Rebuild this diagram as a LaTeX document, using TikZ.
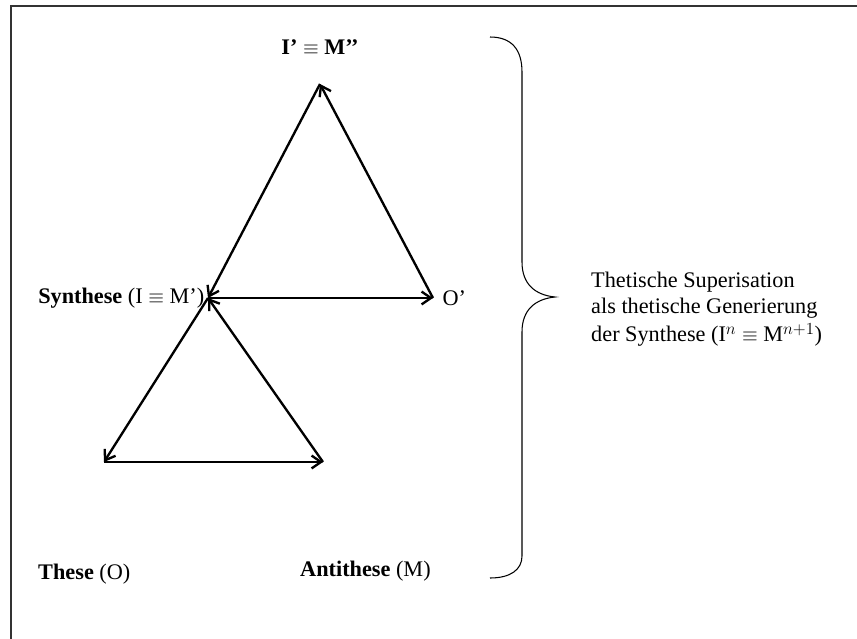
\documentclass[tikz,border=0pt]{standalone}
\usepackage{fontspec}
\setmainfont{Liberation Serif}
\usetikzlibrary{arrows.meta,positioning}

\begin{document}
\begin{tikzpicture}[x=0.03cm,y=-0.03cm,>={Straight Barb[length=8pt,width=11pt]}]
\tikzstyle{edge}=[->,line width=2pt]
\tikzstyle{lbl}=[inner sep=0pt,font=\fontsize{19}{19.6}\selectfont]
\useasboundingbox (0,0) rectangle (857,639);
% frame
\draw[line width=1.4pt,black!80] (11,639) -- (11,6) -- (857,6);
% corners of the two triangles
\coordinate (apex) at (320,84);
\coordinate (syn) at (208,298);
\coordinate (oprime) at (433,298);
\coordinate (these) at (104,462);
\coordinate (anti) at (323,462);
\draw[edge] (syn) -- (oprime);
\draw[edge] (oprime) -- (apex);
\draw[edge] (apex) -- (syn);
\draw[edge] (syn) -- (these);
\draw[edge] (these) -- (anti);
\draw[edge] (anti) -- (syn);
% labels
\node[lbl,above=25pt of apex] (toplbl) {\textbf{I’} $\equiv$ \textbf{M’’}};
\node[lbl,left=3pt of syn] (synlbl) {\textbf{Synthese} (I $\equiv$ M’)};
\node[lbl,right=8pt of oprime] (olbl) {O’};
\node[lbl,anchor=west] (thlbl) at (38,574) {\textbf{These} (O)};
\node[lbl,anchor=west] (antlbl) at (300,571) {\textbf{Antithese} (M)};
% brace
\coordinate (btop) at (490,37);
\coordinate (btip) at (555,297);
\coordinate (bbot) at (490,578);
\draw[line width=0.9pt] (btop) .. controls (512,37) and (522,50) .. (522,72) -- (522,262)
  .. controls (522,284) and (535,295) .. (btip)
  .. controls (535,299) and (522,310) .. (522,332) -- (522,556)
  .. controls (522,570) and (510,578) .. (bbot);
\node[lbl,anchor=west,align=left] (note) at (591,309)
  {Thetische Superisation\\[3pt]als thetische Generierung\\[3pt]der Synthese (I$^{n}$ $\equiv$ M$^{n+1}$)};
\end{tikzpicture}
\end{document}
